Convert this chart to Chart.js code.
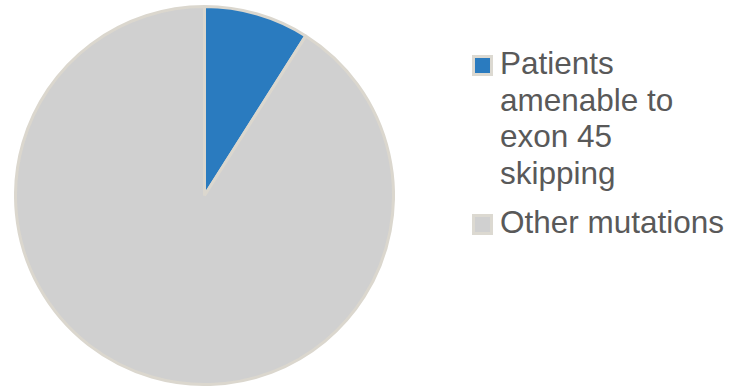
<!DOCTYPE html>
<html>
<head>
<meta charset="utf-8">
<script src="https://cdn.jsdelivr.net/npm/chart.js@4.4.1/dist/chart.umd.min.js"></script>
<style>
    html, body {
        margin: 0;
        padding: 0;
        width: 730px;
        height: 387px;
        background: #ffffff;
        overflow: hidden;
    }
    #pie-wrap {
        position: absolute;
        left: 14px;
        top: 5px;
        width: 381px;
        height: 381px;
    }
    #legend-mutasi {
        position: absolute;
        left: 472px;
        top: 45px;
        margin: 0;
        padding: 0;
        list-style: none;
        font-family: "Liberation Sans", Arial, sans-serif;
        font-size: 31.5px;
        line-height: 36.5px;
        color: #595959;
    }
    #legend-mutasi li {
        display: flex;
        align-items: flex-start;
        margin-bottom: 13px;
    }
    #legend-mutasi .box {
        flex: none;
        width: 15px;
        height: 15px;
        border: 3px solid #dcd9d1;
        margin-top: 10px;
        margin-right: 7px;
    }
    #legend-mutasi .text {
        width: 234px;
    }
</style>
</head>
<body>
<div id="pie-wrap"><canvas id="chart-mutasi"></canvas></div>
<ul id="legend-mutasi"></ul>
<script>
const labels = ["Patients amenable to exon 45 skipping", "Other mutations"];
const values = [9, 91];
const colors = ["#2a7bbf", "#d0d0d0"];

// legend drawn as html so the long label can wrap
const htmlLegend = {
    id: "htmlLegend",
    afterUpdate(chart) {
        const ul = document.getElementById("legend-mutasi");
        ul.innerHTML = "";
        const items = chart.options.plugins.legend.labels.generateLabels(chart);
        items.forEach((item) => {
            const li = document.createElement("li");
            const box = document.createElement("span");
            box.className = "box";
            box.style.background = item.fillStyle;
            const text = document.createElement("span");
            text.className = "text";
            text.textContent = item.text;
            li.appendChild(box);
            li.appendChild(text);
            ul.appendChild(li);
        });
    },
};

const chartMutasi = new Chart(document.getElementById("chart-mutasi"), {
    type: "pie",
    data: {
        labels: labels,
        datasets: [
            {
                data: values,
                backgroundColor: colors,
                borderColor: "#dbd7ce",
                borderWidth: 3,
            },
        ],
    },
    options: {
        responsive: true,
        maintainAspectRatio: false,
        animation: false,
        layout: { padding: 0 },
        plugins: {
            legend: { display: false },
            tooltip: { enabled: false },
        },
    },
    plugins: [htmlLegend],
});
</script>
</body>
</html>
